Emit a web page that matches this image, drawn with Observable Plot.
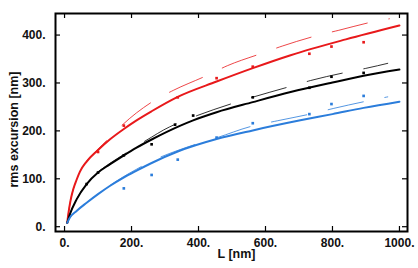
<!DOCTYPE html>
<html>
<head>
<meta charset="utf-8">
<script src="https://cdn.jsdelivr.net/npm/d3@7"></script>
<script src="https://cdn.jsdelivr.net/npm/@observablehq/plot@0.6"></script>
<style>
  html, body { margin: 0; padding: 0; background: #fff; }
</style>
</head>
<body>
<div id="chart"></div>
<script>
// ---- tick labels ----
const xTicks = [0, 200, 400, 600, 800, 1000];
const yTicks = [0, 100, 200, 300, 400];

// ---- solid fit curves ----
const redSolidL = [8, 12, 18, 26, 36, 46, 66, 100, 135, 177, 215, 260, 338, 454, 562, 675, 840, 1000];
const redSolidY = [8, 30, 55, 78, 98, 115, 136, 160, 182, 204, 222, 241, 271, 303, 331, 358, 391, 420];
const blackSolidL = [8, 16, 36, 66, 100, 135, 175, 215, 260, 346, 384, 454, 562, 675, 800, 893, 1000];
const blackSolidY = [8, 26, 57, 89, 113, 130, 148, 165, 182, 211, 222, 239, 260, 281, 301, 315, 328];
const blueSolidL = [8, 16, 36, 66, 100, 135, 175, 215, 260, 338, 454, 562, 704, 800, 893, 1000];
const blueSolidY = [8, 19, 33, 50, 68, 85, 102, 117, 133, 157, 183, 201, 222, 235, 248, 261];

// ---- dashed curves ----
const redDashL = [8, 12, 18, 26, 36, 46, 66, 100, 135, 172, 267, 326, 423, 486, 585, 650, 754, 819, 923, 970];
const redDashY = [8, 30, 55, 78, 98, 115, 137, 162, 186, 212, 263, 285, 315, 336, 361, 377, 399, 410, 428, 434];
const blackDashL = [8, 16, 36, 66, 100, 135, 175, 215, 260, 296, 331, 396, 500, 560, 670, 734, 839, 903, 965];
const blackDashY = [8, 26, 57, 89, 114, 132, 150, 168, 187, 202, 214, 232, 257, 270, 292, 305, 322, 331, 341];
const blueDashL = [8, 16, 36, 66, 100, 135, 175, 215, 260, 341, 401, 456, 555, 635, 739, 804, 908, 965];
const blueDashY = [8, 19, 33, 50, 69, 86, 104, 120, 137, 160, 174, 186, 209, 221, 236, 247, 263, 271];

// ---- data points ----
const redPtL = [100, 177, 338, 454, 562, 731, 797, 893];
const redPtY = [156, 211, 270, 310, 334, 361, 376, 385];
const blackPtL = [66, 100, 177, 260, 330, 384, 562, 731, 797, 893];
const blackPtY = [89, 113, 149, 172, 213, 232, 270, 290, 313, 321];
const bluePtL = [177, 260, 338, 454, 562, 731, 797, 893];
const bluePtY = [80, 108, 140, 186, 216, 235, 256, 273];

const RED = "#e8191b", BLACK = "#000000", BLUE = "#2b7ddb";

const zip = (L, Y) => L.map((l, i) => ({L: l, y: Y[i]}));

const solid = [
  [redSolidL, redSolidY, RED], [blackSolidL, blackSolidY, BLACK], [blueSolidL, blueSolidY, BLUE]
];
const dashed = [
  [redDashL, redDashY, RED], [blackDashL, blackDashY, BLACK], [blueDashL, blueDashY, BLUE]
];
const pts = [
  [redPtL, redPtY, RED], [blackPtL, blackPtY, BLACK], [bluePtL, bluePtY, BLUE]
];

const W = 418, H = 268, mL = 55, mR = 11, mT = 13, mB = 37;
const innerW = W - mL - mR, innerH = H - mT - mB;
const tick = 5;

const marks = [];
for (const [L, Y, c] of dashed) {
  marks.push(Plot.line(zip(L, Y), {x: "L", y: "y", stroke: c, strokeWidth: 1, strokeOpacity: 0.8, strokeDasharray: "36,22", curve: "monotone-x"}));
}
for (const [L, Y, c] of solid) {
  marks.push(Plot.line(zip(L, Y), {x: "L", y: "y", stroke: c, strokeWidth: 2, curve: "monotone-x"}));
}
for (const [L, Y, c] of pts) {
  marks.push(Plot.dot(zip(L, Y), {x: "L", y: "y", fill: c, symbol: "square", r: 1.5}));
}

const chart = Plot.plot({
  width: W, height: H,
  marginLeft: mL, marginRight: mR, marginTop: mT, marginBottom: mB,
  style: {fontFamily: "'Liberation Sans', Arial, Helvetica, sans-serif", fontSize: "12px", fontWeight: "bold", background: "#fff", color: "#111"},
  x: {domain: [-27, 1024]},
  y: {domain: [-10, 445]},
  marks: [
    ...marks,
    // inward ticks on all four sides
    Plot.tickX(xTicks, {x: d => d, insetTop: innerH - tick, stroke: "#000", strokeWidth: 1.2}),
    Plot.tickX(xTicks, {x: d => d, insetBottom: innerH - tick, stroke: "#000", strokeWidth: 1.2}),
    Plot.tickY(yTicks, {y: d => d, insetRight: innerW - tick, stroke: "#000", strokeWidth: 1.2}),
    Plot.tickY(yTicks, {y: d => d, insetLeft: innerW - tick, stroke: "#000", strokeWidth: 1.2}),
    Plot.axisX({ticks: xTicks, tickSize: 0, tickPadding: 7, tickFormat: d => d + ".", label: null, fontSize: 12}),
    Plot.axisY({ticks: yTicks, tickSize: 0, tickPadding: 10, tickFormat: d => d + ".", label: null, fontSize: 12}),
    Plot.text(["L [nm]"], {text: d => d, frameAnchor: "bottom", dy: 26, dx: 5, lineAnchor: "bottom", fontSize: 12.5}),
    Plot.text(["rms excursion [nm]"], {text: d => d, frameAnchor: "left", dx: -46, dy: 7, rotate: -90, textAnchor: "middle", lineAnchor: "top", fontSize: 12.5}),
    Plot.frame({stroke: "#000", strokeWidth: 2})
  ]
});
document.getElementById("chart").appendChild(chart);
</script>
</body>
</html>
